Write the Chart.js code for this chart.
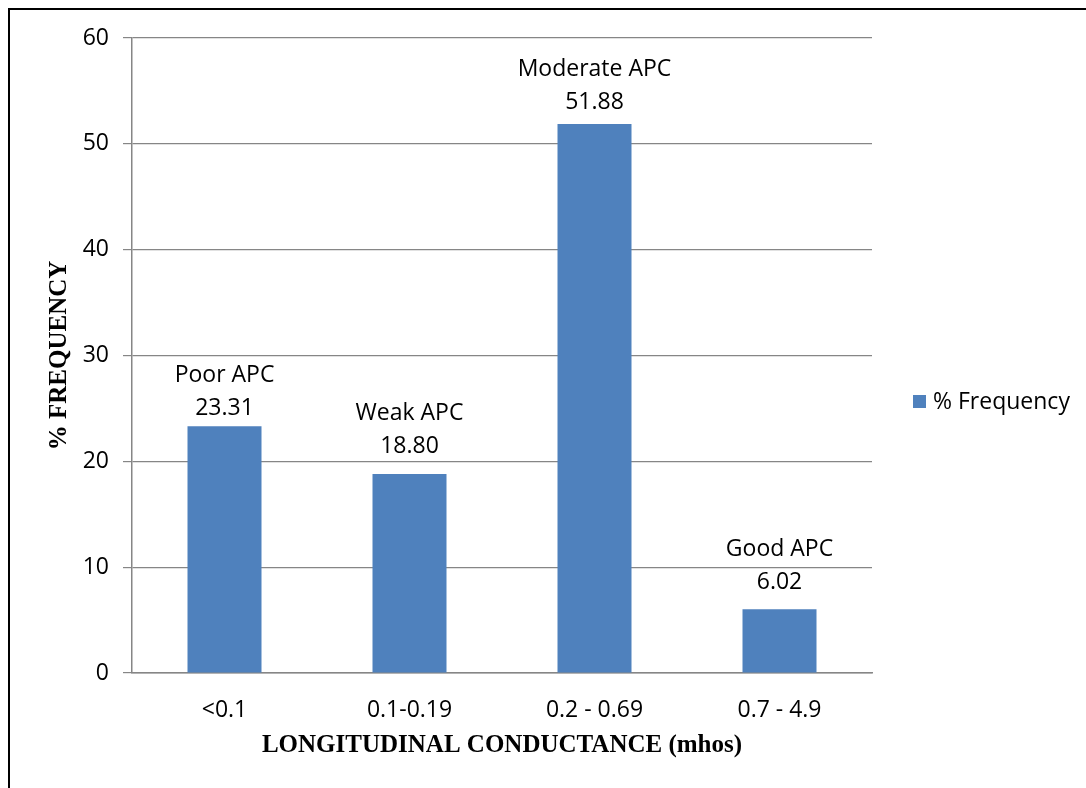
<!DOCTYPE html>
<html>
<head>
<meta charset="utf-8">
<script src="https://cdn.jsdelivr.net/npm/chart.js@4"></script>
<style>
  html, body { margin: 0; padding: 0; background: #fff; overflow: hidden; }
  #frame {
    position: absolute; left: 8px; top: 8px; width: 1200px; height: 900px;
    border-left: 2px solid #000; border-top: 2px solid #000;
  }
  #wrap { position: absolute; left: 0; top: 0; width: 1086px; height: 788px; }
</style>
</head>
<body>
<div id="frame"></div>
<div id="wrap"><canvas id="chart" width="1086" height="788"></canvas></div>
<script>
// chart data
const categories = ['<0.1', '0.1-0.19', '0.2 - 0.69', '0.7 - 4.9'];
const frequency = [23.31, 18.80, 51.88, 6.02];
const classLabels = ['Poor APC', 'Weak APC', 'Moderate APC', 'Good APC'];
const yTicks = [0, 10, 20, 30, 40, 50, 60];

const BAR_COLOR = '#4F81BD';
const GRID_COLOR = '#868686';
const SANS = '"Open Sans", "Noto Sans", sans-serif';
const SERIF = '"Liberation Serif", "DejaVu Serif", serif';
const TEXT_SIZE = 23;

// gap between bar top and value label, per bar (hand placed in the original)
const labelGaps = [18, 28, 21, 27];

// draws "Poor APC / 23.31" above each bar
const barLabels = {
  id: 'barLabels',
  afterDatasetsDraw(chart) {
    const ctx = chart.ctx;
    const meta = chart.getDatasetMeta(0);
    ctx.save();
    ctx.font = TEXT_SIZE + 'px ' + SANS;
    ctx.fillStyle = '#000';
    ctx.textAlign = 'center';
    ctx.textBaseline = 'middle';
    meta.data.forEach((bar, i) => {
      const y = bar.y - labelGaps[i];
      ctx.fillText(frequency[i].toFixed(2), bar.x, y);
      ctx.fillText(classLabels[i], bar.x, y - 33);
    });
    ctx.restore();
  },
};

// legend on the right, a bit below the middle like the original
const sideLegend = {
  id: 'sideLegend',
  afterDraw(chart) {
    const ctx = chart.ctx;
    const ds = chart.data.datasets[0];
    const x = chart.chartArea.right + 41;
    const y = 401;
    ctx.save();
    ctx.fillStyle = ds.backgroundColor;
    ctx.fillRect(x, y - 6, 13, 13);
    ctx.font = TEXT_SIZE + 'px ' + SANS;
    ctx.fillStyle = '#000';
    ctx.textBaseline = 'middle';
    ctx.fillText(ds.label, x + 20, y + 1);
    ctx.restore();
  },
};

new Chart(document.getElementById('chart'), {
  type: 'bar',
  data: {
    labels: categories,
    datasets: [{
      label: '% Frequency',
      data: frequency,
      backgroundColor: BAR_COLOR,
      categoryPercentage: 0.8,
      barPercentage: 0.5,
    }],
  },
  options: {
    responsive: false,
    animation: false,
    layout: { padding: { left: 45, top: 38, right: 214, bottom: 15 } },
    plugins: {
      legend: { display: false },
      tooltip: { enabled: false },
    },
    scales: {
      x: {
        grid: { display: false, drawTicks: false },
        border: { display: true, color: GRID_COLOR, width: 1.5 },
        ticks: { color: '#000', font: { family: SANS, size: TEXT_SIZE }, padding: 24 },
        title: {
          display: true,
          text: 'LONGITUDINAL CONDUCTANCE (mhos)',
          color: '#000',
          font: { family: SERIF, size: 25, weight: 'bold' },
          padding: { top: 0, bottom: 12 },
        },
        afterFit(scale) { scale.height = 100; },
      },
      y: {
        min: 0,
        max: 60,
        afterBuildTicks(scale) { scale.ticks = yTicks.map((v) => ({ value: v })); },
        grid: { color: GRID_COLOR, lineWidth: 1.2, tickLength: 9, tickColor: GRID_COLOR },
        border: { display: true, color: GRID_COLOR, width: 1.5 },
        ticks: { color: '#000', font: { family: SANS, size: TEXT_SIZE }, padding: 14 },
        title: {
          display: true,
          text: '% FREQUENCY',
          color: '#000',
          font: { family: SERIF, size: 25, weight: 'bold' },
          padding: 0,
        },
        afterFit(scale) { scale.width = 87; },
      },
    },
  },
  plugins: [barLabels, sideLegend],
});
</script>
</body>
</html>
